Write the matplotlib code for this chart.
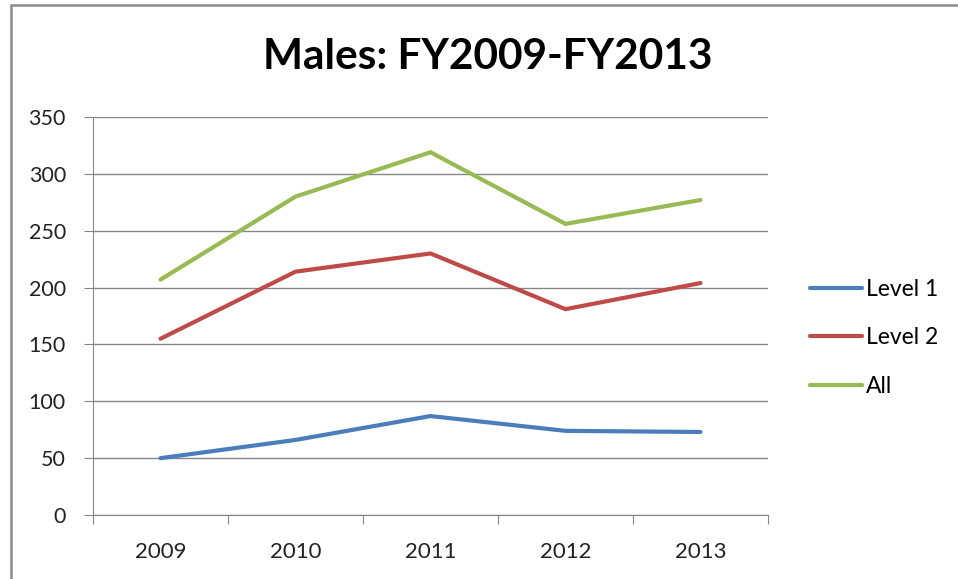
import matplotlib
matplotlib.use("Agg")
import matplotlib.pyplot as plt
from matplotlib.patches import Rectangle

years = ["2009", "2010", "2011", "2012", "2013"]
level1 = [50, 66, 87, 74, 73]
level2 = [155, 214, 230, 181, 204]
all_levels = [207, 280, 319, 256, 277]

series = [
    ("Level 1", level1, "#4A7EBB"),
    ("Level 2", level2, "#BE4B48"),
    ("All", all_levels, "#98B954"),
]

plt.rcParams["font.family"] = ["Lato", "DejaVu Sans"]

W, H = 958, 579
fig = plt.figure(figsize=(W / 100, H / 100), dpi=100)
fig.patch.set_facecolor("white")

# chart frame (runs off the right and bottom edges)
fig.patches.append(Rectangle((11 / W, -0.1), 1.2, 1.1 - 5 / H,
                             transform=fig.transFigure, fill=False,
                             edgecolor="#8c8c8c", linewidth=1.8))

left, right, top, bottom = 93, 768, 117, 515
ax = fig.add_axes([left / W, 1 - bottom / H, (right - left) / W, (bottom - top) / H])

x = list(range(len(years)))
for name, vals, color in series:
    ax.plot(x, vals, color=color, linewidth=3, label=name, solid_capstyle="round",
            solid_joinstyle="miter", zorder=3)

ax.set_xlim(-0.5, len(years) - 0.5)
ax.set_ylim(0, 350)
ax.set_yticks(range(0, 351, 50))
ax.yaxis.grid(True, color="#868686", linewidth=1)
ax.set_axisbelow(True)

# category boundaries get tick marks, labels sit between them
ax.set_xticks([i - 0.5 for i in range(len(years) + 1)])
ax.set_xticklabels([])
ax.set_xticks(x, minor=True)
ax.set_xticklabels(years, minor=True)
ax.tick_params(axis="x", which="major", length=6.5, direction="out")
ax.tick_params(axis="x", which="minor", length=0, pad=19.5, labelsize=16)
ax.tick_params(axis="y", length=6.5, labelsize=15.5, pad=13)
ax.tick_params(axis="both", which="both", color="#868686", labelcolor="#222222")

for side in ["top", "right"]:
    ax.spines[side].set_visible(False)
for side in ["left", "bottom"]:
    ax.spines[side].set_color("#868686")

fig.text(488 / W, 1 - 57 / H, "Males: FY2009-FY2013", fontsize=30.5,
         fontweight="bold", ha="center", va="center")

ax.legend(loc="upper left", bbox_to_anchor=(1.062, 0.594), frameon=False,
          fontsize=16.5, handlelength=2.27, handletextpad=0.17, labelspacing=1.2,
          borderpad=0, borderaxespad=0)

fig.savefig("out.png", dpi=100)
